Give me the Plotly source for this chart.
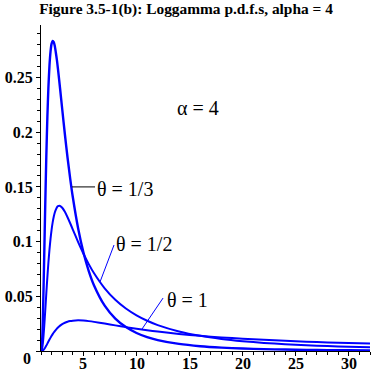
import plotly.graph_objects as go

# x values and p.d.f. values (loggamma, alpha = 4)
x_vals = [1, 1.1, 1.2, 1.3, 1.4, 1.5, 1.6, 1.7, 1.8, 1.9, 2.0, 2.1, 2.2, 2.3, 2.4,
          2.5, 2.6, 2.8, 3.0, 3.25, 3.5, 3.75, 4, 4.5, 5, 5.5, 6, 7, 8, 9, 10, 11,
          12, 14, 16, 18, 20, 22, 24, 26, 28, 30, 32]

pdf_theta_third = [0, 0.00799, 0.03945, 0.08536, 0.13386, 0.17777, 0.21387, 0.24150,
                   0.26116, 0.27392, 0.28099, 0.28351, 0.28248, 0.27875, 0.27263,
                   0.26587, 0.25772, 0.23973, 0.22099, 0.19813, 0.17687, 0.15764,
                   0.14049, 0.11202, 0.09005, 0.07309, 0.05992, 0.04143, 0.02964,
                   0.02183, 0.01648, 0.01271, 0.00999, 0.00646, 0.00439, 0.00311,
                   0.00227, 0.00170, 0.00131, 0.00102, 0.00081, 0.00066, 0.00054]

pdf_theta_half = [0, 0.00174, 0.00935, 0.02192, 0.03702, 0.05267, 0.06759, 0.08110,
                  0.09286, 0.10281, 0.11101, 0.11760, 0.12275, 0.12664, 0.12925,
                  0.13129, 0.13236, 0.13260, 0.13096, 0.12720, 0.12228, 0.11677,
                  0.11101, 0.09957, 0.08894, 0.07941, 0.07102, 0.05729, 0.04683,
                  0.03880, 0.03256, 0.02762, 0.02368, 0.01786, 0.01388, 0.01104,
                  0.00896, 0.00740, 0.00619, 0.00525, 0.00449, 0.00389, 0.00339]

pdf_theta_one = [0, 0.00012, 0.00070, 0.00178, 0.00324, 0.00494, 0.00676, 0.00862,
                 0.01045, 0.01221, 0.01388, 0.01544, 0.01688, 0.01820, 0.01939,
                 0.02051, 0.02151, 0.02320, 0.02455, 0.02584, 0.02675, 0.02737,
                 0.02775, 0.02801, 0.02779, 0.02730, 0.02663, 0.02506, 0.02342,
                 0.02183, 0.02035, 0.01899, 0.01776, 0.01563, 0.01388, 0.01242,
                 0.01120, 0.01017, 0.00929, 0.00853, 0.00787, 0.00729, 0.00678]

x_ticks = [5, 10, 15, 20, 25, 30]
x_tick_labels = ["5", "10", "15", "20", "25", "30"]
y_ticks = [0, 0.05, 0.1, 0.15, 0.2, 0.25]
y_tick_labels = ["0", "0.05", "0.1", "0.15", "0.2", "0.25"]

BLUE = "rgb(0,0,255)"
SERIF = "Liberation Serif"

fig = go.Figure()
for ys, w in [(pdf_theta_third, 2.4), (pdf_theta_half, 2), (pdf_theta_one, 2)]:
    fig.add_trace(go.Scatter(x=x_vals, y=ys, mode="lines",
                             line=dict(color=BLUE, width=w, shape="spline", smoothing=0.6),
                             showlegend=False, hoverinfo="skip"))

# label leader lines
fig.add_shape(type="line", x0=3.92, y0=0.15, x1=6.09, y1=0.15,
              line=dict(color="black", width=1))
fig.add_shape(type="line", x0=6.56, y0=0.0631, x1=7.88, y1=0.0969,
              line=dict(color=BLUE, width=1))
fig.add_shape(type="line", x0=10.52, y0=0.0201, x1=12.5, y1=0.0484,
              line=dict(color=BLUE, width=1))

ann_font = dict(family=SERIF, size=20, color="black")
for txt, ax, ay in [("θ = 1/3", 6.09, 0.148), ("θ = 1/2", 7.88, 0.0978),
                    ("θ = 1", 12.68, 0.0466), ("α = 4", 13.63, 0.222)]:
    fig.add_annotation(x=ax, y=ay, text=txt, showarrow=False, xanchor="left",
                       yanchor="middle", font=ann_font, xref="x", yref="y")

tick_font = dict(family=SERIF, size=16, color="black", weight="bold")

# x tick labels placed just under the axis, as in the reference
for v, lab in zip(x_ticks, x_tick_labels):
    fig.add_annotation(x=v, y=0, xref="x", yref="paper", text=lab, showarrow=False,
                       xanchor="center", yanchor="top", yshift=-2, font=tick_font)

# the "0" y label sits a little below the axis in the reference
fig.add_annotation(x=0, y=y_ticks[0], xref="paper", yref="y", text=y_tick_labels[0],
                   showarrow=False, xanchor="right", yanchor="middle",
                   xshift=-8, yshift=-7, font=tick_font)

fig.update_layout(
    width=372, height=372,
    margin=dict(l=41, r=2, t=25, b=21, autoexpand=False),
    paper_bgcolor="white", plot_bgcolor="white",
    title=dict(text="Figure 3.5-1(b): Loggamma p.d.f.s, alpha = 4",
               font=dict(family=SERIF, size=15.4, color="black", weight="bold"),
               x=0.5, xanchor="center", y=0.977, yanchor="middle", yref="container",
               automargin=False),
    xaxis=dict(range=[1, 32], tickvals=x_ticks, ticktext=[""] * len(x_ticks),
               showgrid=False, zeroline=False, automargin=False,
               showline=True, linecolor="black", linewidth=1,
               ticks="outside", ticklen=4, tickcolor="black", tickfont=tick_font,
               minor=dict(dtick=1, tick0=0, ticks="outside", ticklen=3, tickcolor="black",
                          showgrid=False)),
    yaxis=dict(range=[0, 0.298], tickvals=y_ticks, ticktext=[""] + y_tick_labels[1:],
               showgrid=False, zeroline=False, automargin=False,
               showline=True, linecolor="black", linewidth=1,
               ticks="outside", ticklen=4, tickcolor="black", tickfont=tick_font,
               ticklabelstandoff=0,
               minor=dict(dtick=0.01, tick0=0, ticks="outside", ticklen=3, tickcolor="black",
                          showgrid=False)),
)

fig.write_html("out.html", config={"displayModeBar": False},
               post_script="document.body.style.margin='0';document.body.style.overflow='hidden';")
